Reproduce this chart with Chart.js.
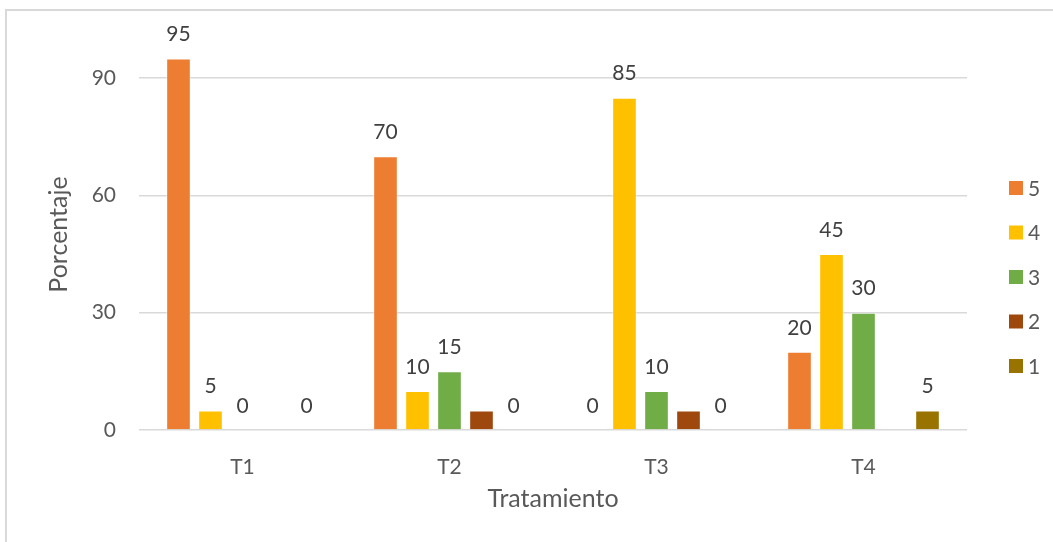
<!DOCTYPE html>
<html lang="es">
<head>
<meta charset="utf-8">
<title>Porcentaje por tratamiento</title>
<script src="https://cdn.jsdelivr.net/npm/chart.js@4.4.1/dist/chart.umd.min.js"></script>
<style>
    html, body { margin: 0; padding: 0; background: #fff; overflow: hidden; }
    #wrap { position: relative; width: 1053px; height: 542px; }
    #marco {
        position: absolute; left: 5px; top: 9px; width: 1200px; height: 700px;
        border-left: 2px solid #d9d9d9; border-top: 2px solid #d9d9d9;
    }
    #grafico { position: absolute; left: 0; top: 0; }
</style>
</head>
<body>
<div id="wrap">
    <div id="marco"></div>
    <canvas id="grafico" width="1053" height="542"></canvas>
</div>
<script>
const tratamientos = ['T1', 'T2', 'T3', 'T4'];

// Porcentaje por puntuación (5 a 1)
const puntaje5 = [95, 70, 0, 20];
const puntaje4 = [5, 10, 85, 45];
const puntaje3 = [0, 15, 10, 30];
const puntaje2 = [0, 5, 5, 0];
const puntaje1 = [0, 0, 0, 5];

const ticksY = [0, 30, 60, 90];

const FUENTE = 'Lato, "Open Sans", sans-serif';

// Etiquetas con el valor encima de cada barra
const etiquetasValor = {
    id: 'etiquetasValor',
    afterDatasetsDraw(chart) {
        const ctx = chart.ctx;
        ctx.save();
        ctx.font = '21px ' + FUENTE;
        ctx.fillStyle = '#404040';
        ctx.textAlign = 'center';
        ctx.textBaseline = 'middle';
        chart.data.datasets.forEach((ds, i) => {
            if (ds.mostrarValor === false) return;
            chart.getDatasetMeta(i).data.forEach((bar, j) => {
                const v = ds.data[j];
                if (v === null || v === undefined) return;
                ctx.fillText(String(v), bar.x, bar.y - 24);
            });
        });
        ctx.restore();
    }
};

// Leyenda a la derecha, con cuadros pequeños
const leyenda = {
    id: 'leyenda',
    afterDraw(chart) {
        const ctx = chart.ctx;
        const area = chart.chartArea;
        const paso = 44.5;
        const n = chart.data.datasets.length;
        const x = area.right + 42;
        let y = area.top + 238 - paso * (n - 1) / 2;
        ctx.save();
        ctx.font = '21px ' + FUENTE;
        ctx.textBaseline = 'middle';
        ctx.textAlign = 'left';
        chart.data.datasets.forEach(ds => {
            ctx.fillStyle = ds.backgroundColor;
            ctx.fillRect(x, y - 7, 14, 14);
            ctx.fillStyle = '#595959';
            ctx.fillText(ds.label, x + 19, y + 1);
            y += paso;
        });
        ctx.restore();
    }
};

function serie(label, data, color, mostrarValor) {
    return {
        label: label,
        data: data,
        backgroundColor: color,
        borderColor: 'rgba(255, 255, 255, 0.45)',
        borderWidth: 1,
        barPercentage: 0.77,
        categoryPercentage: 0.773,
        mostrarValor: mostrarValor
    };
}

function renderGrafico() {
    const ctx = document.getElementById('grafico').getContext('2d');
    new Chart(ctx, {
        type: 'bar',
        data: {
            labels: tratamientos,
            datasets: [
                serie('5', puntaje5, '#ED7D31', true),
                serie('4', puntaje4, '#FFC000', true),
                serie('3', puntaje3, '#70AD47', true),
                serie('2', puntaje2, '#9E480E', false),
                serie('1', puntaje1, '#997300', true)
            ]
        },
        options: {
            responsive: false,
            animation: false,
            layout: { padding: { top: 39, right: 86, bottom: 0, left: 0 } },
            plugins: {
                legend: { display: false },
                tooltip: { enabled: false }
            },
            scales: {
                x: {
                    grid: { display: false },
                    border: { display: false },
                    ticks: {
                        color: '#595959',
                        font: { family: FUENTE, size: 21 },
                        padding: 17
                    },
                    title: {
                        display: true,
                        text: 'Tratamiento',
                        color: '#595959',
                        font: { family: FUENTE, size: 25 },
                        padding: { top: 0, bottom: 28 }
                    },
                    afterFit(scale) { scale.height = 112; }
                },
                y: {
                    min: 0,
                    max: 100,
                    afterBuildTicks(axis) {
                        axis.ticks = ticksY.map(v => ({ value: v }));
                    },
                    grid: {
                        color: '#d9d9d9',
                        lineWidth: 1.5,
                        drawTicks: false
                    },
                    border: { display: false },
                    ticks: {
                        color: '#595959',
                        font: { family: FUENTE, size: 21 },
                        padding: 23
                    },
                    title: {
                        display: true,
                        text: 'Porcentaje',
                        color: '#595959',
                        font: { family: FUENTE, size: 25 },
                        padding: { top: 44, bottom: 0 }
                    },
                    afterFit(scale) { scale.width = 139; }
                }
            }
        },
        plugins: [etiquetasValor, leyenda]
    });
}

renderGrafico();
</script>
</body>
</html>
